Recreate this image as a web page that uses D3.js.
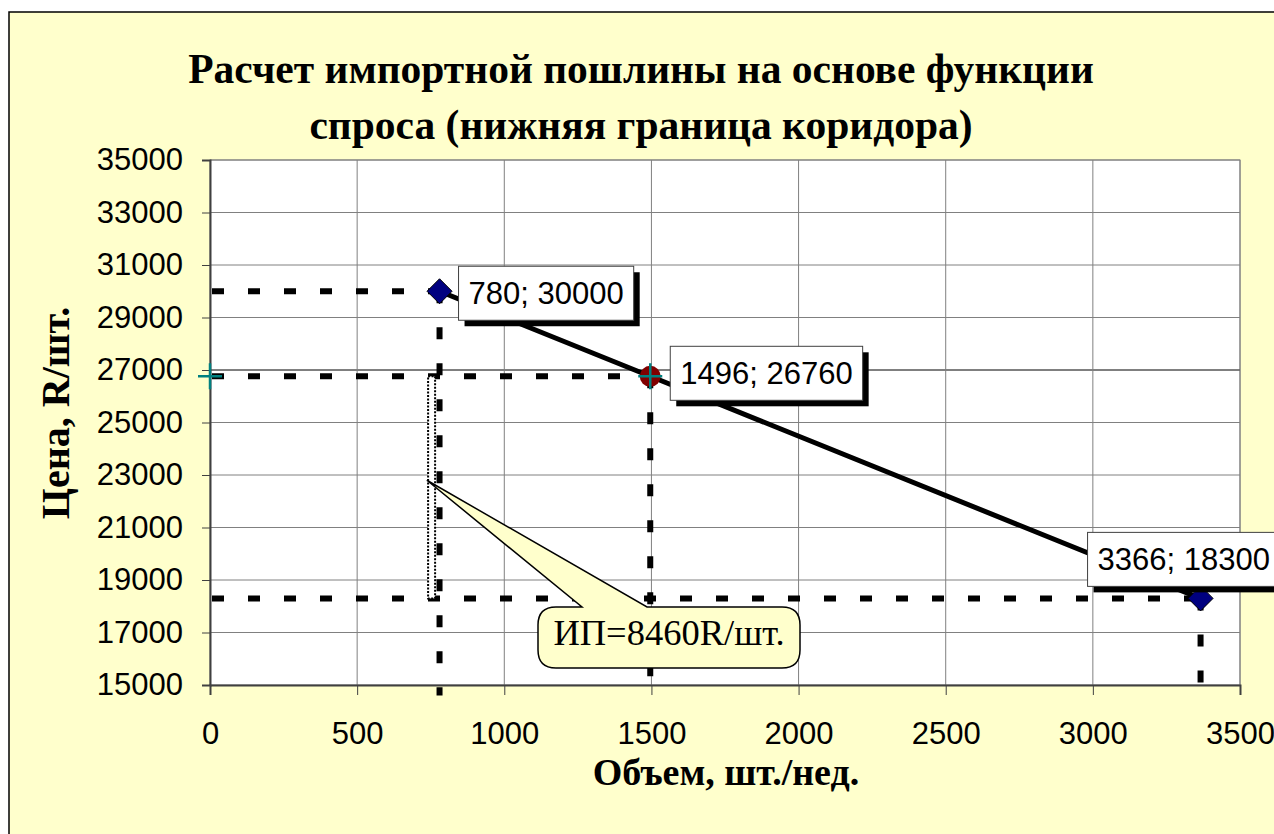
<!DOCTYPE html>
<html>
<head>
<meta charset="utf-8">
<script src="https://cdn.jsdelivr.net/npm/d3@7"></script>
<style>
  html, body { margin: 0; padding: 0; background: #ffffff; }
  svg { display: block; }
</style>
</head>
<body>
<svg id="chart" width="1274" height="834"></svg>
<script>
// ---------- data ----------
const titleLines = ["Расчет импортной пошлины на основе функции", "спроса (нижняя граница коридора)"];
const xAxisTitle = "Объем, шт./нед.";
const yAxisTitle = "Цена, R/шт.";
const xTicks = [0, 500, 1000, 1500, 2000, 2500, 3000, 3500];
const yTicks = [15000, 17000, 19000, 21000, 23000, 25000, 27000, 29000, 31000, 33000, 35000];
const demandQ = [780, 1496, 3366];
const demandP = [30000, 26760, 18300];
const demandMarker = ["diamond", "circle", "diamond"];
const guideBottom = [14600, 15000, 15000];
const crossQ = [0, 1496];
const crossP = [26760, 26760];
const dutyQ = 753;
const dutyTop = 26760;
const dutyBottom = 18300;
const calloutText = "ИП=8460R/шт.";
const calloutTip = [737, 22800];

// ---------- layout ----------
const svg = d3.select("#chart");
const x = d3.scaleLinear().domain([0, 3500]).range([210, 1240]);
const y = d3.scaleLinear().domain([15000, 35000]).range([685, 160]);
const serif = "'Liberation Serif', 'Times New Roman', serif";
const sans = "'Liberation Sans', Arial, sans-serif";

// outer chart area
svg.append("rect").attr("x", 9).attr("y", 12).attr("width", 1300).attr("height", 900)
  .attr("fill", "#FFFFCC").attr("stroke", "#000").attr("stroke-width", 1.5);

// plot area
svg.append("rect").attr("x", x(0)).attr("y", y(35000))
  .attr("width", x(3500) - x(0)).attr("height", y(15000) - y(35000))
  .attr("fill", "#ffffff").attr("stroke", "#808080").attr("stroke-width", 1);

// grid
const g = svg.append("g");
g.selectAll(".hg").data(yTicks.slice(1)).join("line")
  .attr("x1", x(0)).attr("x2", x(3500))
  .attr("y1", d => y(d)).attr("y2", d => y(d))
  .attr("stroke", d => d === 27000 ? "#000" : "#808080").attr("stroke-width", 1);
g.selectAll(".vg").data(xTicks.slice(1)).join("line")
  .attr("y1", y(15000)).attr("y2", y(35000))
  .attr("x1", d => x(d)).attr("x2", d => x(d))
  .attr("stroke", "#808080").attr("stroke-width", 1);

// axes
const yAxis = svg.append("g").attr("transform", `translate(${x(0)},0)`)
  .call(d3.axisLeft(y).tickValues(yTicks).tickFormat(d3.format("d")).tickSize(8).tickPadding(19));
const xAxis = svg.append("g").attr("transform", `translate(0,${y(15000)})`)
  .call(d3.axisBottom(x).tickValues(xTicks).tickFormat(d3.format("d")).tickSize(10).tickPadding(27));
[yAxis, xAxis].forEach(a => {
  a.select(".domain").attr("stroke", "#404040").attr("stroke-width", 2);
  a.selectAll(".tick line").attr("stroke", "#404040").attr("stroke-width", 1);
  a.selectAll(".tick text").attr("font-family", sans).attr("font-size", 31).attr("fill", "#000");
});

// dashed guides
const dash = { "stroke": "#000", "stroke-width": 6, "stroke-dasharray": "12,24", "fill": "none" };
const guides = svg.append("g");
demandQ.forEach((q, i) => {
  const h = guides.append("line")
    .attr("x1", x(0) + 2).attr("x2", x(q)).attr("y1", y(demandP[i])).attr("y2", y(demandP[i]));
  const v = guides.append("line")
    .attr("x1", x(q)).attr("x2", x(q)).attr("y1", y(demandP[i])).attr("y2", y(guideBottom[i]));
  [h, v].forEach(l => Object.entries(dash).forEach(([k, val]) => l.attr(k, val)));
});

// duty bar
svg.append("rect")
  .attr("x", x(dutyQ) - 3.5).attr("y", y(dutyTop))
  .attr("width", 7).attr("height", y(dutyBottom) - y(dutyTop))
  .attr("fill", "#fff").attr("stroke", "#000").attr("stroke-width", 2)
  .attr("stroke-dasharray", "2,1.5");

// demand line
svg.append("path")
  .datum(demandQ.map((q, i) => [q, demandP[i]]))
  .attr("d", d3.line().x(d => x(d[0])).y(d => y(d[1])))
  .attr("fill", "none").attr("stroke", "#000").attr("stroke-width", 5);

// markers
demandQ.forEach((q, i) => {
  const cx = x(q), cy = y(demandP[i]);
  if (demandMarker[i] === "diamond") {
    svg.append("path")
      .attr("d", `M${cx},${cy - 12.5}L${cx + 12.5},${cy}L${cx},${cy + 12.5}L${cx - 12.5},${cy}Z`)
      .attr("fill", "#000080").attr("stroke", "#000").attr("stroke-width", 1);
  } else {
    svg.append("circle").attr("cx", cx).attr("cy", cy).attr("r", 10.5)
      .attr("fill", "#800000");
  }
});

// cross markers
crossQ.forEach((q, i) => {
  const cx = x(q), cy = y(crossP[i]);
  svg.append("path")
    .attr("d", `M${cx - 12},${cy}L${cx + 12},${cy}M${cx},${cy - 13}L${cx},${cy + 13}`)
    .attr("stroke", "#008080").attr("stroke-width", 2.5).attr("fill", "none");
});

// data labels
const labelPos = [[19, -25], [20, -30], [-113, -66]];
demandQ.forEach((q, i) => {
  const px = x(q), py = y(demandP[i]);
  const txt = `${q}; ${demandP[i]}`;
  const gl = svg.append("g");
  const t = gl.append("text").text(txt)
    .attr("font-family", sans).attr("font-size", 31).attr("fill", "#000");
  const w = t.node().getComputedTextLength() + 20;
  const bx = px + labelPos[i][0], by = py + labelPos[i][1], bh = 54;
  gl.insert("rect", "text").attr("x", bx + 6).attr("y", by + 6).attr("width", w).attr("height", bh).attr("fill", "#000");
  gl.insert("rect", "text").attr("x", bx).attr("y", by).attr("width", w).attr("height", bh)
    .attr("fill", "#fff").attr("stroke", "#404040").attr("stroke-width", 1);
  t.attr("x", bx + 10).attr("y", by + 38);
});

// callout
(function () {
  const x0 = 538, y0 = 607, x1 = 800, y1 = 668, r = 18;
  const tx = x(calloutTip[0]), ty = y(calloutTip[1]);
  const p = `M${x0 + r},${y0} L582,${y0} L${tx},${ty} L647,${y0} L${x1 - r},${y0}
    Q${x1},${y0} ${x1},${y0 + r} L${x1},${y1 - r} Q${x1},${y1} ${x1 - r},${y1}
    L${x0 + r},${y1} Q${x0},${y1} ${x0},${y1 - r} L${x0},${y0 + r} Q${x0},${y0} ${x0 + r},${y0}Z`;
  svg.append("path").attr("d", p).attr("fill", "#FFFFCC").attr("stroke", "#000").attr("stroke-width", 1.5);
  svg.append("text").text(calloutText)
    .attr("x", (x0 + x1) / 2).attr("y", 645).attr("text-anchor", "middle")
    .attr("font-family", serif).attr("font-size", 36.5).attr("fill", "#000");
})();

// titles
titleLines.forEach((t, i) => {
  svg.append("text").text(t)
    .attr("x", 641).attr("y", 83 + i * 56).attr("text-anchor", "middle")
    .attr("font-family", serif).attr("font-weight", "bold").attr("font-size", 41.5).attr("fill", "#000");
});
svg.append("text").text(xAxisTitle)
  .attr("x", 726).attr("y", 785).attr("text-anchor", "middle")
  .attr("font-family", serif).attr("font-weight", "bold").attr("font-size", 38).attr("fill", "#000");
svg.append("text").text(yAxisTitle)
  .attr("transform", `translate(69,413) rotate(-90)`).attr("text-anchor", "middle")
  .attr("font-family", serif).attr("font-weight", "bold").attr("font-size", 40).attr("fill", "#000");
</script>
</body>
</html>
